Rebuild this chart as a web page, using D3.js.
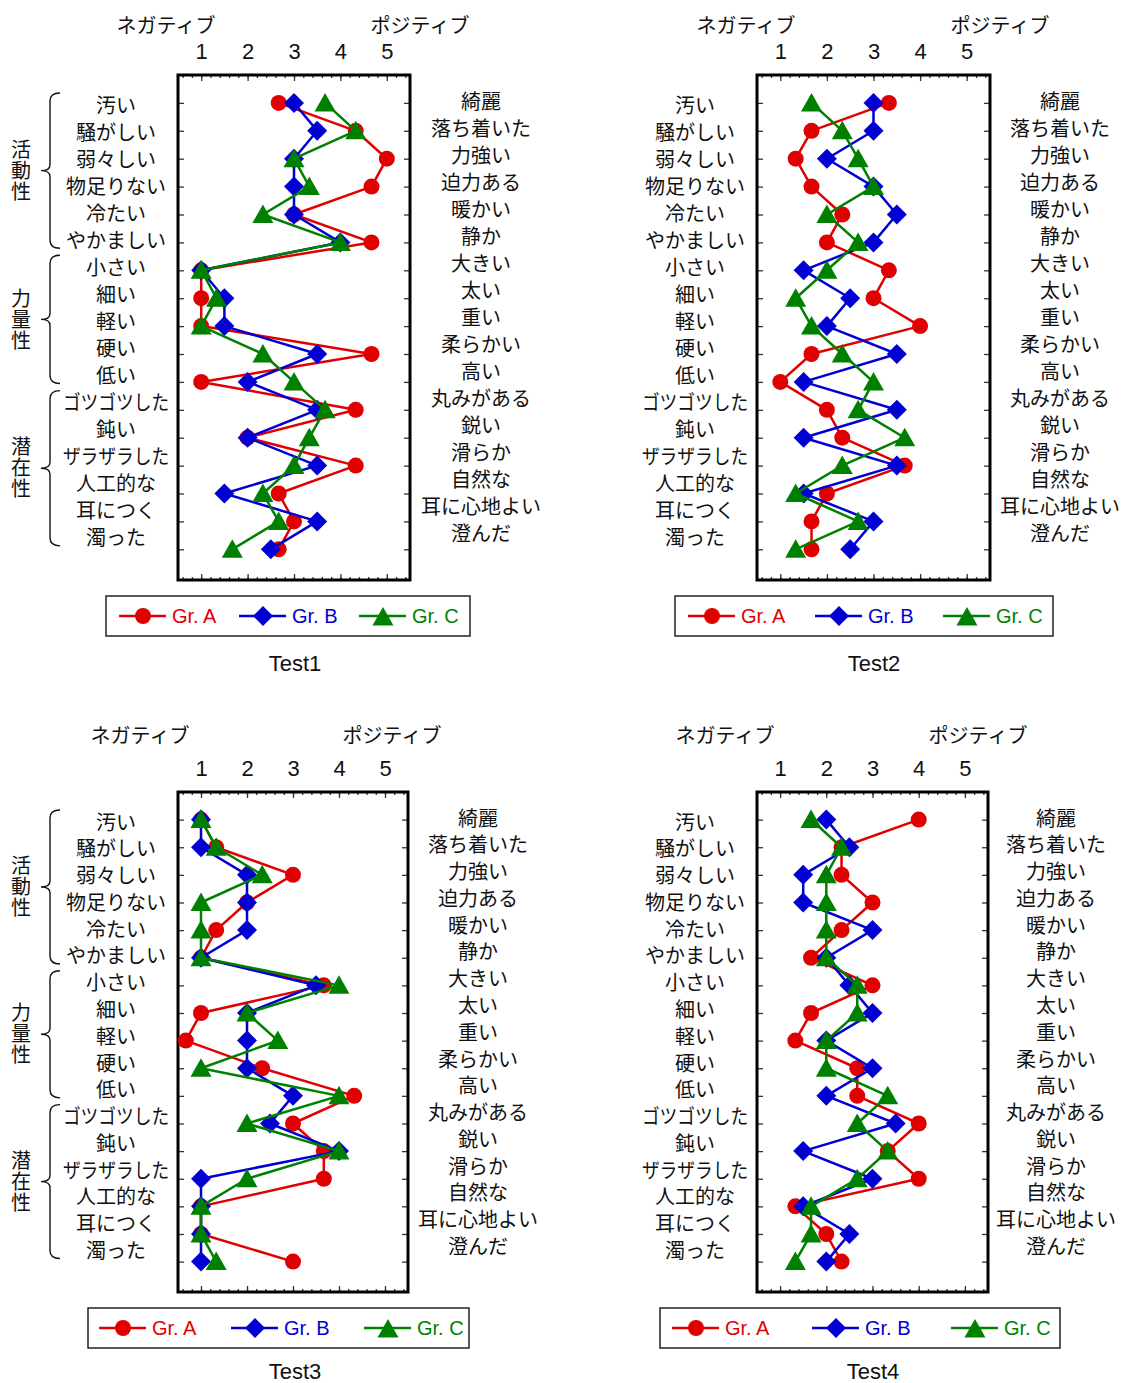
<!DOCTYPE html>
<html lang="ja">
<head>
<meta charset="utf-8">
<script src="https://cdn.jsdelivr.net/npm/d3@7"></script>
<style>
  html, body { margin: 0; padding: 0; background: #fff; }
  svg { display: block; }
</style>
</head>
<body>
<div id="chart"></div>
<script>
// Adjective pairs (negative pole on the left, positive pole on the right)
const leftWords = ["汚い", "騒がしい", "弱々しい", "物足りない", "冷たい", "やかましい",
  "小さい", "細い", "軽い", "硬い", "低い",
  "ゴツゴツした", "鈍い", "ザラザラした", "人工的な", "耳につく", "濁った"];
const rightWords = ["綺麗", "落ち着いた", "力強い", "迫力ある", "暖かい", "静か",
  "大きい", "太い", "重い", "柔らかい", "高い",
  "丸みがある", "鋭い", "滑らか", "自然な", "耳に心地よい", "澄んだ"];

// Factor groups: name and first/last row index
const factorNames = ["活動性", "力量性", "潜在性"];
const factorStart = [0, 6, 11];
const factorEnd = [5, 10, 16];

const scaleTicks = [1, 2, 3, 4, 5];
const negLabel = "ネガティブ";
const posLabel = "ポジティブ";
const groupNames = ["Gr. A", "Gr. B", "Gr. C"];
const testNames = ["Test1", "Test2", "Test3", "Test4"];

// Mean ratings per row, one array per group and test
const test1A = [2.67, 4.33, 5, 4.67, 3, 4.67, 1, 1, 1, 4.67, 1, 4.33, 2, 4.33, 2.67, 3, 2.67];
const test1B = [3, 3.5, 3, 3, 3, 4, 1, 1.5, 1.5, 3.5, 2, 3.5, 2, 3.5, 1.5, 3.5, 2.5];
const test1C = [3.67, 4.33, 3, 3.33, 2.33, 4, 1, 1.33, 1, 2.33, 3, 3.67, 3.33, 3, 2.33, 2.67, 1.67];

const test2A = [3.33, 1.67, 1.33, 1.67, 2.33, 2, 3.33, 3, 4, 1.67, 1, 2, 2.33, 3.67, 2, 1.67, 1.67];
const test2B = [3, 3, 2, 3, 3.5, 3, 1.5, 2.5, 2, 3.5, 1.5, 3.5, 1.5, 3.5, 1.5, 3, 2.5];
const test2C = [1.67, 2.33, 2.67, 3, 2, 2.67, 2, 1.33, 1.67, 2.33, 3, 2.67, 3.67, 2.33, 1.33, 2.67, 1.33];

const test3A = [1, 1.33, 3, 2, 1.33, 1, 3.67, 1, 0.67, 2.33, 4.33, 3, 3.67, 3.67, 1, 1, 3];
const test3B = [1, 1, 2, 2, 2, 1, 3.5, 2, 2, 2, 3, 2.5, 4, 1, 1, 1, 1];
const test3C = [1, 1.33, 2.33, 1, 1, 1, 4, 2, 2.67, 1, 4, 2, 4, 2, 1, 1, 1.33];

const test4A = [4, 2.33, 2.33, 3, 2.33, 1.67, 3, 1.67, 1.33, 2.67, 2.67, 4, 3.33, 4, 1.33, 2, 2.33];
const test4B = [2, 2.5, 1.5, 1.5, 3, 2, 2.5, 3, 2, 3, 2, 3.5, 1.5, 3, 1.5, 2.5, 2];
const test4C = [1.67, 2.33, 2, 2, 2, 2, 2.67, 2.67, 2, 2, 3.33, 2.67, 3.33, 2.67, 1.67, 1.67, 1.33];

const W = 1124, H = 1383;
const JP = "'Noto Sans CJK JP', 'Noto Sans', sans-serif";
const LATIN = "'Liberation Sans', Arial, sans-serif";
const colors = ["#e00000", "#0000d2", "#008000"];

// Marker shapes: circle, diamond, triangle
const markerPath = [
  d3.symbol().type(d3.symbolCircle).size(Math.PI * 8 * 8)(),
  "M0,-10L10,0L0,10L-10,0Z",
  "M0,-10L10.5,8.5L-10.5,8.5Z"
];

// Panel layout
const panels = [
  { data: [test1A, test1B, test1C], x0: 178, x1: 410, y0: 75, y1: 580, groups: true,
    leftX: 116, rightX: 481, negX: 166, posX: 420, capY: 24,
    legX: 106, legW: 364, legY: 596, legItems: [119, 239, 359], titleX: 295, titleY: 663 },
  { data: [test2A, test2B, test2C], x0: 757, x1: 990, y0: 75, y1: 580, groups: false,
    leftX: 695, rightX: 1060, negX: 746, posX: 1000, capY: 24,
    legX: 675, legW: 378, legY: 596, legItems: [688, 815, 943], titleX: 874, titleY: 663 },
  { data: [test3A, test3B, test3C], x0: 178, x1: 408, y0: 792, y1: 1292, groups: true,
    leftX: 116, rightX: 478, negX: 140, posX: 392, capY: 734,
    legX: 88, legW: 381, legY: 1308, legItems: [99, 231, 364], titleX: 295, titleY: 1371 },
  { data: [test4A, test4B, test4C], x0: 757, x1: 988, y0: 792, y1: 1292, groups: false,
    leftX: 695, rightX: 1056, negX: 725, posX: 978, capY: 734,
    legX: 660, legW: 400, legY: 1308, legItems: [672, 812, 951], titleX: 873, titleY: 1371 }
];

const svg = d3.select("#chart").append("svg")
  .attr("width", W).attr("height", H)
  .attr("viewBox", `0 0 ${W} ${H}`);
svg.append("rect").attr("width", W).attr("height", H).attr("fill", "#fff");

const rowIdx = d3.range(1, leftWords.length + 1);
const minorTicks = d3.range(0.6, 5.41, 0.2).map(v => +v.toFixed(1));

// Words with runs of katakana are set a little tighter
const tight = s => /[ァ-ヴ]{2,}/.test(s);

function wordLabels(g, words, cx, yFn) {
  const t = g.selectAll(null).data(words).join("text")
    .attr("x", cx).attr("y", (d, i) => yFn(i)).text(d => d)
    .attr("text-anchor", "middle").attr("dominant-baseline", "central")
    .attr("font-family", JP).attr("font-size", 20).attr("fill", "#111");
  t.filter(d => tight(d))
    .attr("textLength", d => d.length * 17.7)
    .attr("lengthAdjust", "spacingAndGlyphs");
}

panels.forEach((p, pi) => {
  const g = svg.append("g");
  const x = d3.scaleLinear().domain([0.5, 5.5]).range([p.x0, p.x1]);
  const y = d3.scaleLinear().domain([0, 18.1]).range([p.y0, p.y1]);

  // Word label rows (own spacing, slightly tighter than the data rows)
  const step = (p.y1 - p.y0) * 0.05357;
  const leftY = i => p.y0 + 29 + i * step;
  const rightY = i => p.y0 + 25 + i * step;

  // Minor ticks on top and bottom edges
  g.append("g").attr("transform", `translate(0,${p.y0})`)
    .call(d3.axisTop(x).tickValues(minorTicks).tickSize(-3).tickFormat(""))
    .call(a => a.select(".domain").remove());
  g.append("g").attr("transform", `translate(0,${p.y1})`)
    .call(d3.axisBottom(x).tickValues(minorTicks).tickSize(-3).tickFormat(""))
    .call(a => a.select(".domain").remove());
  // Major ticks with scale numbers above the frame
  g.append("g").attr("class", "xtop").attr("transform", `translate(0,${p.y0})`)
    .call(d3.axisTop(x).tickValues(scaleTicks).tickSize(-6).tickPadding(16).tickFormat(d3.format("d")))
    .call(a => a.select(".domain").remove());
  g.append("g").attr("transform", `translate(0,${p.y1})`)
    .call(d3.axisBottom(x).tickValues(scaleTicks).tickSize(-6).tickFormat(""))
    .call(a => a.select(".domain").remove());
  // Row ticks on both sides
  g.append("g").attr("transform", `translate(${p.x0},0)`)
    .call(d3.axisLeft(y).tickValues(rowIdx).tickSize(-6).tickFormat(""))
    .call(a => a.select(".domain").remove());
  g.append("g").attr("transform", `translate(${p.x1},0)`)
    .call(d3.axisRight(y).tickValues(rowIdx).tickSize(-6).tickFormat(""))
    .call(a => a.select(".domain").remove());
  g.selectAll(".tick line").attr("stroke", "#333").attr("stroke-width", 1.3);
  g.select(".xtop").selectAll("text")
    .attr("font-family", LATIN).attr("font-size", 22).attr("fill", "#111");

  // Frame
  g.append("rect")
    .attr("x", p.x0).attr("y", p.y0)
    .attr("width", p.x1 - p.x0).attr("height", p.y1 - p.y0)
    .attr("fill", "none").attr("stroke", "#000").attr("stroke-width", 3);

  // Pole captions
  g.append("text").attr("x", p.negX).attr("y", p.capY).text(negLabel)
    .attr("text-anchor", "middle").attr("dominant-baseline", "central")
    .attr("font-family", JP).attr("font-size", 20).attr("fill", "#111");
  g.append("text").attr("x", p.posX).attr("y", p.capY).text(posLabel)
    .attr("text-anchor", "middle").attr("dominant-baseline", "central")
    .attr("font-family", JP).attr("font-size", 20).attr("fill", "#111");

  // Word labels
  wordLabels(g, leftWords, p.leftX, leftY);
  wordLabels(g, rightWords, p.rightX, rightY);

  // Factor braces and names (names set in vertical writing)
  if (p.groups) {
    factorNames.forEach((name, k) => {
      const top = leftY(factorStart[k]) - 11;
      const bot = leftY(factorEnd[k]) + 9;
      const mid = (top + bot) / 2;
      const bx = 50, ex = 60, px = 41;
      g.append("path")
        .attr("d", `M${ex},${top} Q${bx},${top} ${bx},${top + 8} L${bx},${mid - 6} Q${bx},${mid} ${px},${mid} Q${bx},${mid} ${bx},${mid + 6} L${bx},${bot - 8} Q${bx},${bot} ${ex},${bot}`)
        .attr("fill", "none").attr("stroke", "#111").attr("stroke-width", 1.4);
      g.append("text")
        .attr("x", 21).attr("y", mid)
        .style("writing-mode", "vertical-rl")
        .attr("text-anchor", "middle")
        .attr("letter-spacing", 1)
        .attr("font-family", JP).attr("font-size", 20).attr("fill", "#111")
        .text(name);
    });
  }

  // Profile lines and markers, one group after another
  p.data.forEach((vals, s) => {
    const pts = vals.map((v, i) => [x(v), y(i + 1)]);
    g.append("path").attr("d", d3.line()(pts))
      .attr("fill", "none").attr("stroke", colors[s]).attr("stroke-width", 2.5)
      .attr("stroke-linejoin", "round");
    g.selectAll(null).data(pts).join("path")
      .attr("d", markerPath[s])
      .attr("transform", d => `translate(${d[0]},${d[1]})`)
      .attr("fill", colors[s]);
  });

  // Legend
  const lg = g.append("g");
  lg.append("rect").attr("x", p.legX).attr("y", p.legY).attr("width", p.legW).attr("height", 40)
    .attr("fill", "#fff").attr("stroke", "#222").attr("stroke-width", 1.5);
  const ly = p.legY + 20;
  groupNames.forEach((name, s) => {
    const lx = p.legItems[s];
    lg.append("line").attr("x1", lx).attr("x2", lx + 47).attr("y1", ly).attr("y2", ly)
      .attr("stroke", colors[s]).attr("stroke-width", 2.5);
    lg.append("path").attr("d", markerPath[s])
      .attr("transform", `translate(${lx + 24},${ly + (s === 2 ? 1 : 0)})`)
      .attr("fill", colors[s]);
    lg.append("text").attr("x", lx + 53).attr("y", ly).text(name)
      .attr("dominant-baseline", "central")
      .attr("font-family", LATIN).attr("font-size", 20).attr("fill", colors[s]);
  });

  // Test title
  g.append("text").attr("x", p.titleX).attr("y", p.titleY).text(testNames[pi])
    .attr("text-anchor", "middle").attr("dominant-baseline", "central")
    .attr("font-family", LATIN).attr("font-size", 22).attr("fill", "#111");
});
</script>
</body>
</html>
